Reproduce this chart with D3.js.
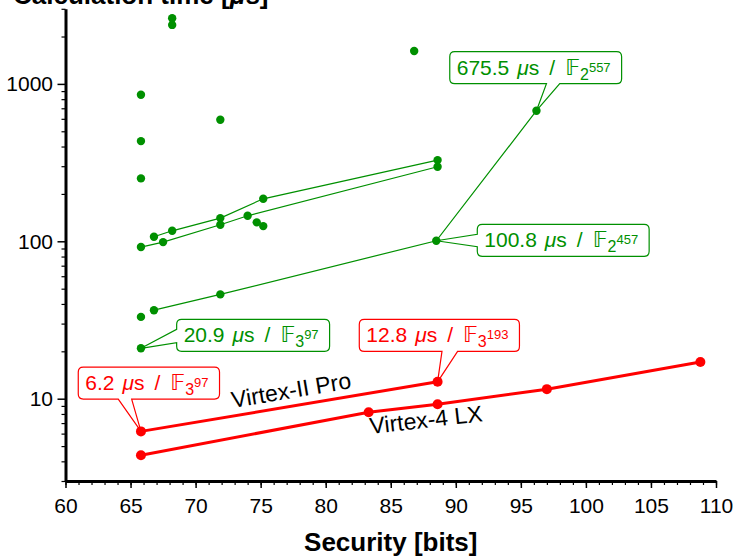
<!DOCTYPE html>
<html><head><meta charset="utf-8">
<script src="https://cdn.jsdelivr.net/npm/d3@7"></script>
<style>
body{margin:0;background:#fff}
svg{display:block}
text{font-family:"Liberation Sans",Arial,sans-serif}
</style>
</head><body>
<svg id="c" width="737" height="558"></svg>
<script>
// ---------- data ----------
const xTickValues = [60,65,70,75,80,85,90,95,100,105,110];
const yTickValues = [10,100,1000];

// red: Virtex-II Pro
const v2proX = [65.8, 88.6];
const v2proY = [6.2, 12.8];
// red: Virtex-4 LX
const v4lxX = [65.8, 83.3, 88.6, 97.0, 108.8];
const v4lxY = [4.37, 8.21, 9.22, 11.5, 17.1];

// green connected series
const gLineAX = [66.8, 68.2, 71.9, 75.2, 88.6];
const gLineAY = [106.8, 116.6, 140.4, 186.2, 328];
const gLineBX = [65.8, 67.5, 71.9, 74.0, 88.6];
const gLineBY = [91.9, 98.8, 127.3, 145.2, 297.6];
const gLineCX = [66.8, 71.9, 88.5, 96.2];
const gLineCY = [36.5, 46.0, 100.8, 675.5];
// green single points
const gSoloX = [68.2, 68.2, 65.8, 65.8, 65.8, 71.9, 86.8, 74.7, 75.2, 65.8, 65.8];
const gSoloY = [2610, 2370, 853, 433, 251, 592, 1618, 131.9, 124.9, 33.1, 20.9];

// callout texts
const calloutVals  = ["675.5", "100.8", "20.9", "12.8", "6.2"];
const calloutField = ["2", "2", "3", "3", "3"];
const calloutExp   = ["557", "457", "97", "193", "97"];
const calloutX     = [96.2, 88.5, 65.8, 88.6, 65.8];
const calloutY     = [675.5, 100.8, 20.9, 12.8, 6.2];
const calloutColor = ["g", "g", "g", "r", "r"];

// ---------- layout ----------
const GREEN = "#009000", RED = "#ff0000";
const svg = d3.select("#c");
const x = d3.scaleLinear().domain([60,110]).range([65.5,716]);
const y = d3.scaleLog().domain([3,3000]).range([481,8.8]);

// callout box placement (pixel offsets from the marked point)
const calloutLayout = [
  {dx:-86.7, dy:-59,   side:"bottom", a:96.7, b:110},
  {dx:41,    dy:-16.4, side:"left",   a:10,   b:22.4},
  {dx:35.7,  dy:-29,   side:"left",   a:10,   b:23.4},
  {dx:-78.3, dy:-62.4, side:"bottom", a:82.7, b:98.3},
  {dx:-62.7, dy:-64.3, side:"bottom", a:40,   b:53.4}
];

// ---------- axes ----------
const gx = svg.append("g").attr("transform","translate(0,481)");
gx.append("g").call(d3.axisBottom(x).tickValues(d3.range(60,111,1)).tickSize(4).tickFormat("").tickSizeOuter(0))
  .call(g=>g.select(".domain").remove())
  .selectAll("line").attr("stroke","#000").attr("stroke-width",1.2);
gx.append("g").call(d3.axisBottom(x).tickValues(xTickValues).tickSize(7).tickSizeOuter(0).tickFormat(d3.format("d")))
  .call(g=>g.select(".domain").attr("stroke","#000").attr("stroke-width",3))
  .call(g=>g.selectAll("line").attr("stroke","#000").attr("stroke-width",1.5))
  .call(g=>g.selectAll("text").attr("y",32).attr("dy",0).attr("font-size",21).attr("fill","#000")
     .attr("font-family",'"Liberation Sans",Arial,sans-serif'));

const gy = svg.append("g").attr("transform","translate(65.5,0)");
const minorY = [];
[1,10,100,1000].forEach(d=>{for(let k=2;k<10;k++){const v=d*k; if(v>=3&&v<=3000) minorY.push(v);}});
gy.append("g").call(d3.axisLeft(y).tickValues(minorY).tickSize(4).tickFormat("").tickSizeOuter(0))
  .call(g=>g.select(".domain").remove())
  .selectAll("line").attr("stroke","#000").attr("stroke-width",1.2);
gy.append("g").call(d3.axisLeft(y).tickValues(yTickValues).tickSize(8).tickSizeOuter(0).tickFormat(d3.format("d")))
  .call(g=>g.select(".domain").attr("stroke","#000").attr("stroke-width",3))
  .call(g=>g.selectAll("line").attr("stroke","#000").attr("stroke-width",1.5))
  .call(g=>g.selectAll("text").attr("x",-12.5).attr("font-size",21).attr("fill","#000")
     .attr("font-family",'"Liberation Sans",Arial,sans-serif'));

// axis titles
const yTitle = svg.append("text").attr("x",13).attr("y",4).attr("font-size",26).attr("font-weight","bold").attr("fill","#000");
yTitle.append("tspan").text("Calculation time [");
yTitle.append("tspan").attr("font-style","italic").text("μ");
yTitle.append("tspan").text("s]");
svg.append("text").attr("x",390.75).attr("y",551).attr("text-anchor","middle").attr("font-size",26)
  .attr("font-weight","bold").attr("fill","#000").text("Security [bits]");

// ---------- lines ----------
const line = d3.line().x(d=>x(d[0])).y(d=>y(d[1]));
const zipPts = (xs,ys)=>xs.map((v,i)=>[v,ys[i]]);
const greenLines = [zipPts(gLineAX,gLineAY), zipPts(gLineBX,gLineBY), zipPts(gLineCX,gLineCY)];
const redLines = [zipPts(v2proX,v2proY), zipPts(v4lxX,v4lxY)];

svg.append("g").selectAll("path").data(greenLines).join("path")
  .attr("d",line).attr("fill","none").attr("stroke",GREEN).attr("stroke-width",1.2);
svg.append("g").selectAll("path").data(redLines).join("path")
  .attr("d",line).attr("fill","none").attr("stroke",RED).attr("stroke-width",3);

// ---------- series labels ----------
function lineLabel(pts, i0, i1, startPx, offset, txt, angleFrom){
  const [a,b] = [pts[angleFrom[0]], pts[angleFrom[1]]];
  const ang = Math.atan2(y(b[1])-y(a[1]), x(b[0])-x(a[0]));
  const p0 = pts[i0], p1 = pts[i1];
  const t = (startPx - x(p0[0]))/(x(p1[0])-x(p0[0]));
  const ly = y(p0[1]) + t*(y(p1[1])-y(p0[1]));
  const px = startPx - offset*Math.sin(ang), py = ly + offset*Math.cos(ang);
  svg.append("text").attr("transform",`translate(${px},${py}) rotate(${ang*180/Math.PI})`)
    .attr("font-size",23).attr("fill","#000").text(txt);
}
lineLabel(redLines[0],0,1,234,-8,"Virtex-II Pro",[0,1]);
lineLabel(redLines[1],1,2,368,22,"Virtex-4 LX",[1,2]);

// ---------- callouts ----------
function boxPath(x0,y0,w,h,r,side,a,b,tx,ty){
  const x1=x0+w, y1=y0+h;
  let p = `M${x0+r},${y0}H${x1-r}Q${x1},${y0} ${x1},${y0+r}V${y1-r}Q${x1},${y1} ${x1-r},${y1}`;
  if(side==="bottom") p += `H${x0+b}L${tx},${ty}L${x0+a},${y1}`;
  p += `H${x0+r}Q${x0},${y1} ${x0},${y1-r}`;
  if(side==="left") p += `V${y0+b}L${tx},${ty}L${x0},${y0+a}`;
  p += `V${y0+r}Q${x0},${y0} ${x0+r},${y0}Z`;
  return p;
}
const cg = svg.append("g");
calloutVals.forEach((val,i)=>{
  const col = calloutColor[i]==="g"?GREEN:RED;
  const L = calloutLayout[i];
  const px = x(calloutX[i]), py = y(calloutY[i]);
  const bx = px+L.dx, by = py+L.dy, h = 32;
  const g = cg.append("g");
  const path = g.append("path").attr("fill","#fff").attr("stroke",col).attr("stroke-width",1.2);
  const t = g.append("text").attr("x",bx+7).attr("y",by+23).attr("font-size",21).attr("fill",col);
  t.append("tspan").text(val);
  t.append("tspan").attr("dx",8).attr("font-style","italic").text("μ");
  t.append("tspan").text("s");
  t.append("tspan").attr("dx",10).text("/");
  t.append("tspan").attr("dx",10).attr("font-family","DejaVu Sans").attr("font-size",22).text("𝔽");
  t.append("tspan").attr("font-size",16).attr("dy",5).text(calloutField[i]);
  t.append("tspan").attr("font-size",13).attr("dy",-8).text(calloutExp[i]);
  const bb = t.node().getBBox();
  const w = (bb.x + bb.width) - bx + 11;
  path.attr("d", boxPath(bx,by,w,h,5,L.side,L.a,L.b,px,py));
});

// ---------- points ----------
svg.append("g").selectAll("circle").data(greenLines.flat().concat(zipPts(gSoloX,gSoloY))).join("circle")
  .attr("cx",d=>x(d[0])).attr("cy",d=>y(d[1])).attr("r",4.2).attr("fill",GREEN);
svg.append("g").selectAll("circle").data(redLines.flat()).join("circle")
  .attr("cx",d=>x(d[0])).attr("cy",d=>y(d[1])).attr("r",5).attr("fill",RED);
</script>
</body></html>
